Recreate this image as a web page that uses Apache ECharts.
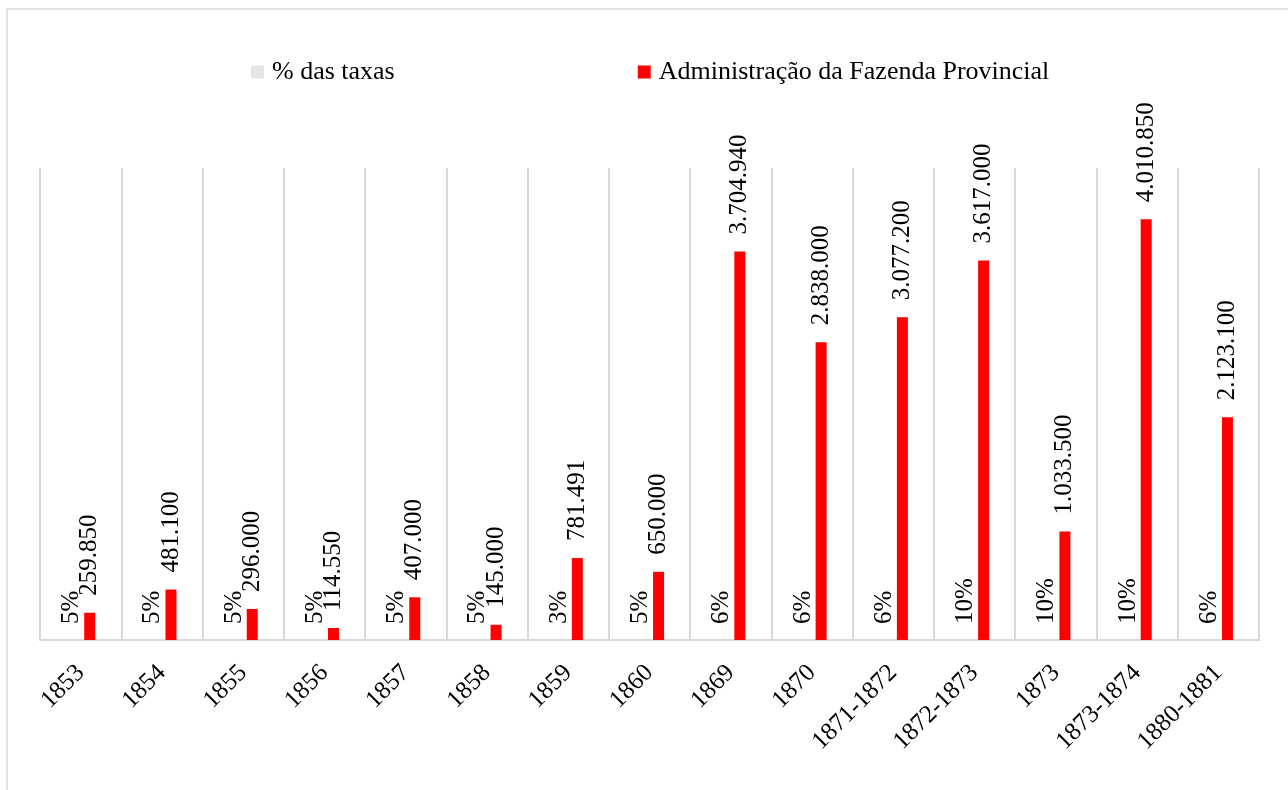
<!DOCTYPE html>
<html>
<head>
<meta charset="utf-8">
<title>Administração da Fazenda Provincial</title>
<script src="https://cdn.jsdelivr.net/npm/echarts@6/dist/echarts.min.js"></script>
<style>
  html, body { margin: 0; padding: 0; background: #fff; }
  #chart { width: 1288px; height: 790px; }
</style>
</head>
<body>
<div id="chart"></div>
<script>
// dados
var anos = ['1853', '1854', '1855', '1856', '1857', '1858', '1859', '1860', '1869', '1870',
            '1871-1872', '1872-1873', '1873', '1873-1874', '1880-1881'];
var taxas = [5, 5, 5, 5, 5, 5, 3, 5, 6, 6, 6, 10, 10, 10, 6];
var fazenda = [259850, 481100, 296000, 114550, 407000, 145000, 781491, 650000, 3704940, 2838000,
               3077200, 3617000, 1033500, 4010850, 2123100];

var fonte = 'Liberation Serif, Times New Roman, serif';

// 1234567 -> 1.234.567
function milhar(v) {
  return String(v).replace(/\B(?=(\d{3})+(?!\d))/g, '.');
}

var chart = echarts.init(document.getElementById('chart'));

var option = {
  backgroundColor: '#fff',
  animation: false,
  textStyle: { fontFamily: fonte, color: '#000' },
  graphic: [{
    type: 'rect',
    shape: { x: 7, y: 9, width: 1300, height: 800 },
    style: { fill: null, stroke: '#d9d9d9', lineWidth: 1.5 },
    silent: true
  }],
  legend: {
    left: 246,
    top: 54,
    itemWidth: 13,
    itemHeight: 13,
    itemGap: 243,
    textStyle: { fontFamily: fonte, fontSize: 26, color: '#000', padding: [0, 0, 0, 3] },
    data: [
      { name: '% das taxas', icon: 'rect' },
      { name: 'Administração da Fazenda Provincial', icon: 'rect' }
    ]
  },
  grid: { left: 40, right: 29, top: 168, bottom: 150 },
  xAxis: {
    type: 'category',
    data: anos,
    axisLine: { lineStyle: { color: '#d9d9d9', width: 2 } },
    axisTick: { show: false },
    splitLine: { show: true, lineStyle: { color: '#d9d9d9', width: 2 } },
    axisLabel: {
      rotate: 45,
      interval: 0,
      margin: 29,
      fontFamily: fonte,
      fontSize: 25,
      color: '#000'
    }
  },
  yAxis: {
    type: 'value',
    min: 0,
    max: 4500000,
    show: false,
    splitLine: { show: false }
  },
  series: [
    {
      name: '% das taxas',
      type: 'bar',
      data: taxas,
      barWidth: 11,
      barGap: '65%',
      itemStyle: { color: '#e6e6e6' },
      label: {
        show: true,
        position: 'top',
        rotate: 90,
        align: 'left',
        verticalAlign: 'middle',
        distance: 16,
        fontFamily: fonte,
        fontSize: 25,
        color: '#000',
        formatter: function (p) { return p.value + '%'; }
      }
    },
    {
      name: 'Administração da Fazenda Provincial',
      type: 'bar',
      data: fazenda,
      barWidth: 11,
      itemStyle: { color: '#ff0000' },
      label: {
        show: true,
        position: 'top',
        rotate: 90,
        align: 'left',
        verticalAlign: 'middle',
        distance: 17,
        fontFamily: fonte,
        fontSize: 25,
        color: '#000',
        formatter: function (p) { return milhar(p.value); }
      }
    }
  ]
};

chart.setOption(option);
</script>
</body>
</html>
